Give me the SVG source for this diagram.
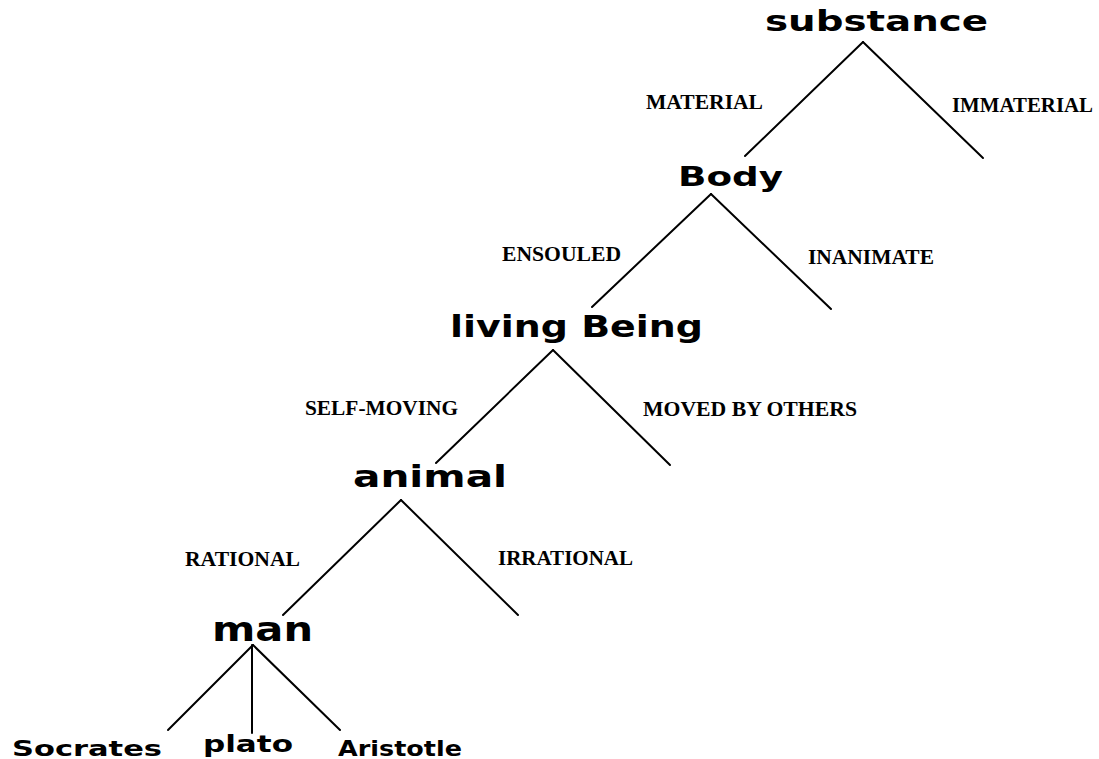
<svg xmlns="http://www.w3.org/2000/svg" width="1099" height="759" viewBox="0 0 1099 759">
<style>
.node text{font-family:"DejaVu Sans","Liberation Sans",sans-serif;font-weight:bold;fill:#000;}
.lbl{font-family:"Liberation Serif","Times New Roman",serif;font-weight:bold;font-size:21px;fill:#000;}
.conn line{stroke:#000;stroke-width:2;stroke-linecap:round;}
</style>
<rect width="1099" height="759" fill="#fff"/>
<g id="connectors" class="conn">
<line x1="863" y1="42" x2="745" y2="156"/>
<line x1="863" y1="42" x2="983" y2="158"/>
<line x1="711" y1="194" x2="592" y2="307"/>
<line x1="711" y1="194" x2="831" y2="309"/>
<line x1="553" y1="350" x2="436" y2="463"/>
<line x1="553" y1="350" x2="670" y2="465"/>
<line x1="401" y1="500" x2="283" y2="615"/>
<line x1="401" y1="500" x2="518" y2="615"/>
<line x1="253" y1="645" x2="168" y2="730"/>
<line x1="252" y1="645" x2="252" y2="733"/>
<line x1="253" y1="645" x2="340" y2="730"/>
</g>
<g id="edge-labels">
<text class="lbl" x="646" y="109" textLength="117" lengthAdjust="spacingAndGlyphs">MATERIAL</text>
<text class="lbl" x="952" y="112" textLength="141" lengthAdjust="spacingAndGlyphs">IMMATERIAL</text>
<text class="lbl" x="502" y="261" textLength="119" lengthAdjust="spacingAndGlyphs">ENSOULED</text>
<text class="lbl" x="808" y="264" textLength="126" lengthAdjust="spacingAndGlyphs">INANIMATE</text>
<text class="lbl" x="305" y="415" textLength="153" lengthAdjust="spacingAndGlyphs">SELF-MOVING</text>
<text class="lbl" x="643" y="416" textLength="214" lengthAdjust="spacingAndGlyphs">MOVED BY OTHERS</text>
<text class="lbl" x="185" y="566" textLength="115" lengthAdjust="spacingAndGlyphs">RATIONAL</text>
<text class="lbl" x="498" y="565" textLength="135" lengthAdjust="spacingAndGlyphs">IRRATIONAL</text>
</g>
<g id="node-substance" class="node"><text x="765" y="31" font-size="28" textLength="223" lengthAdjust="spacingAndGlyphs">substance</text></g>
<g id="node-body" class="node"><text x="678" y="186" font-size="27" textLength="105" lengthAdjust="spacingAndGlyphs">Body</text></g>
<g id="node-living-being" class="node"><text x="450" y="337" font-size="31" textLength="253" lengthAdjust="spacingAndGlyphs">living Being</text></g>
<g id="node-animal" class="node"><text x="353" y="487" font-size="30" textLength="154" lengthAdjust="spacingAndGlyphs">animal</text></g>
<g id="node-man" class="node"><text x="212" y="641" font-size="34" textLength="101" lengthAdjust="spacingAndGlyphs">man</text></g>
<g id="node-socrates" class="node"><text x="12" y="756" font-size="22" textLength="150" lengthAdjust="spacingAndGlyphs">Socrates</text></g>
<g id="node-plato" class="node"><text x="203" y="752" font-size="23" textLength="90" lengthAdjust="spacingAndGlyphs">plato</text></g>
<g id="node-aristotle" class="node"><text x="338" y="756" font-size="22" textLength="124" lengthAdjust="spacingAndGlyphs">Aristotle</text></g>
</svg>
